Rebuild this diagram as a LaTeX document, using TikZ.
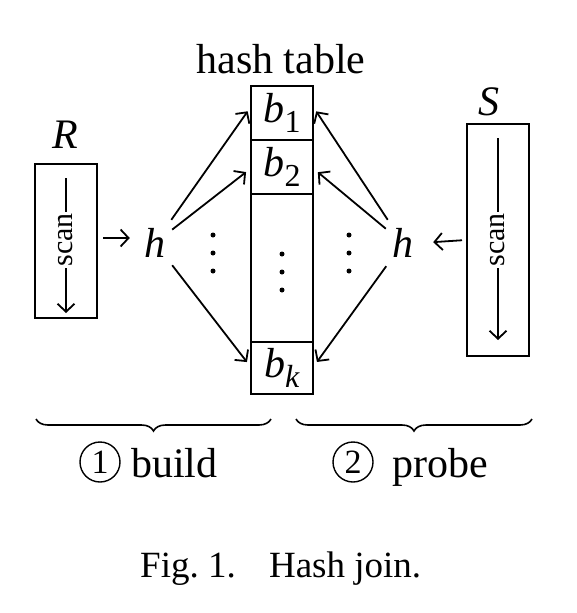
\documentclass[tikz,border=0pt]{standalone}
\usepackage{fontspec}
\setmainfont{Liberation Serif}
\usetikzlibrary{arrows.meta,decorations.pathreplacing}
\tikzset{
  box/.style={draw, line width=2pt, inner sep=0pt},
  cell/.style={box, minimum width=62pt, font=\fontsize{42}{48}\selectfont},
  arr/.style={line width=1.8pt, -{Straight Barb[length=8pt,width=17pt,line width=1.8pt]}},
  ln/.style={line width=1.8pt},
  big/.style={font=\fontsize{42}{48}\selectfont, inner sep=0pt},
  scanlbl/.style={rotate=90, font=\fontsize{30}{34}\selectfont, inner sep=1.5pt},
  hnode/.style={big, minimum width=34pt, minimum height=46pt},
  dot/.style={fill=black, draw=none},
  circnum/.style={circle, draw, line width=1.4pt, minimum size=40pt, inner sep=0pt, font=\fontsize{34}{38}\selectfont},
  brc/.style={decorate, decoration={brace, mirror, amplitude=12pt}, line width=1.6pt}
}
\newcommand{\bsub}[1]{\textit{b}\raisebox{-0.22em}{\fontsize{32}{34}\selectfont #1}}
\begin{document}
\begin{tikzpicture}[x=1pt,y=-1pt]
\useasboundingbox (0,0) rectangle (577,613);
% labels
\node[big, anchor=base] (ht) at (281,73) {hash table};
\node[big, anchor=base] (Rl) at (65,148) {\textit{R}};
\node[big, anchor=base] (Sl) at (489,115) {\textit{S}};
% R box
\node[box, minimum width=62pt, minimum height=154pt] (R) at (66,241) {};
\coordinate (Rtop) at (66,178);
\coordinate (Rbot) at (66,313);
\node[scanlbl] (Rs) at (66,240) {scan};
\draw[ln] (Rtop) -- (Rs.east);
\draw[arr] (Rs.west) -- (Rbot);
% S box
\node[box, minimum width=62pt, minimum height=232pt] (S) at (498,240) {};
\coordinate (Stop) at (498,138);
\coordinate (Sbot) at (498,340);
\node[scanlbl] (Ss) at (498,240) {scan};
\draw[ln] (Stop) -- (Ss.east);
\draw[arr] (Ss.west) -- (Sbot);
% hash table
\node[cell, minimum height=54pt] (b1) at (282,113) {\bsub{1}};
\node[cell, minimum height=54pt] (b2) at (282,167) {\bsub{2}};
\node[cell, minimum height=148pt] (bm) at (282,268) {};
\node[cell, minimum height=52pt] (bk) at (282,368) {\bsub{\textit{k}}};
% h nodes
\node[hnode] (hL) at (155,243) {\textit{h}};
\node[hnode] (hR) at (403,243) {\textit{h}};
% inputs
\draw[arr, shorten <=5pt, shorten >=8pt] (R.east |- 0,238) -- (hL.west |- 0,238);
\draw[arr, shorten <=4pt, shorten >=13pt] (S.west) -- (hR.east);
% build arrows
\draw[arr, shorten >=4pt] (hL) -- ([yshift=5pt]b1.west);
\draw[arr, shorten >=5pt] (hL) -- ([yshift=-2pt]b2.west);
\draw[arr, shorten >=5pt] (hL) -- ([yshift=2pt]bk.west);
% probe arrows
\draw[arr, shorten >=4pt] (hR) -- ([yshift=5pt]b1.east);
\draw[arr, shorten >=5pt] (hR) -- ([yshift=-2pt]b2.east);
\draw[arr, shorten >=5pt] (hR) -- ([yshift=2pt]bk.east);
% dots
\foreach \y in {235,253,271} {
  \fill[dot] (213,\y) circle (2.5pt);
  \fill[dot] (349,\y) circle (2.5pt);
}
\foreach \y in {254,272,290} {
  \fill[dot] (282,\y) circle (2.5pt);
}
% braces
\coordinate (bl1) at (36,419);
\coordinate (bl2) at (271,419);
\coordinate (br1) at (296,419);
\coordinate (br2) at (532,419);
\draw[brc] (bl1) -- (bl2);
\draw[brc] (br1) -- (br2);
\node[circnum] (c1) at (100,462) {1};
\node[big, anchor=base west] (build) at (131,477) {build};
\node[circnum] (c2) at (353,462) {2};
\node[big, anchor=base west] (probe) at (392,477) {probe};
% caption
\node[anchor=base west, inner sep=0pt, font=\fontsize{37}{42}\selectfont] (cap) at (140,577) {Fig.~1.\hspace{0.9em}Hash join.};
\end{tikzpicture}
\end{document}
